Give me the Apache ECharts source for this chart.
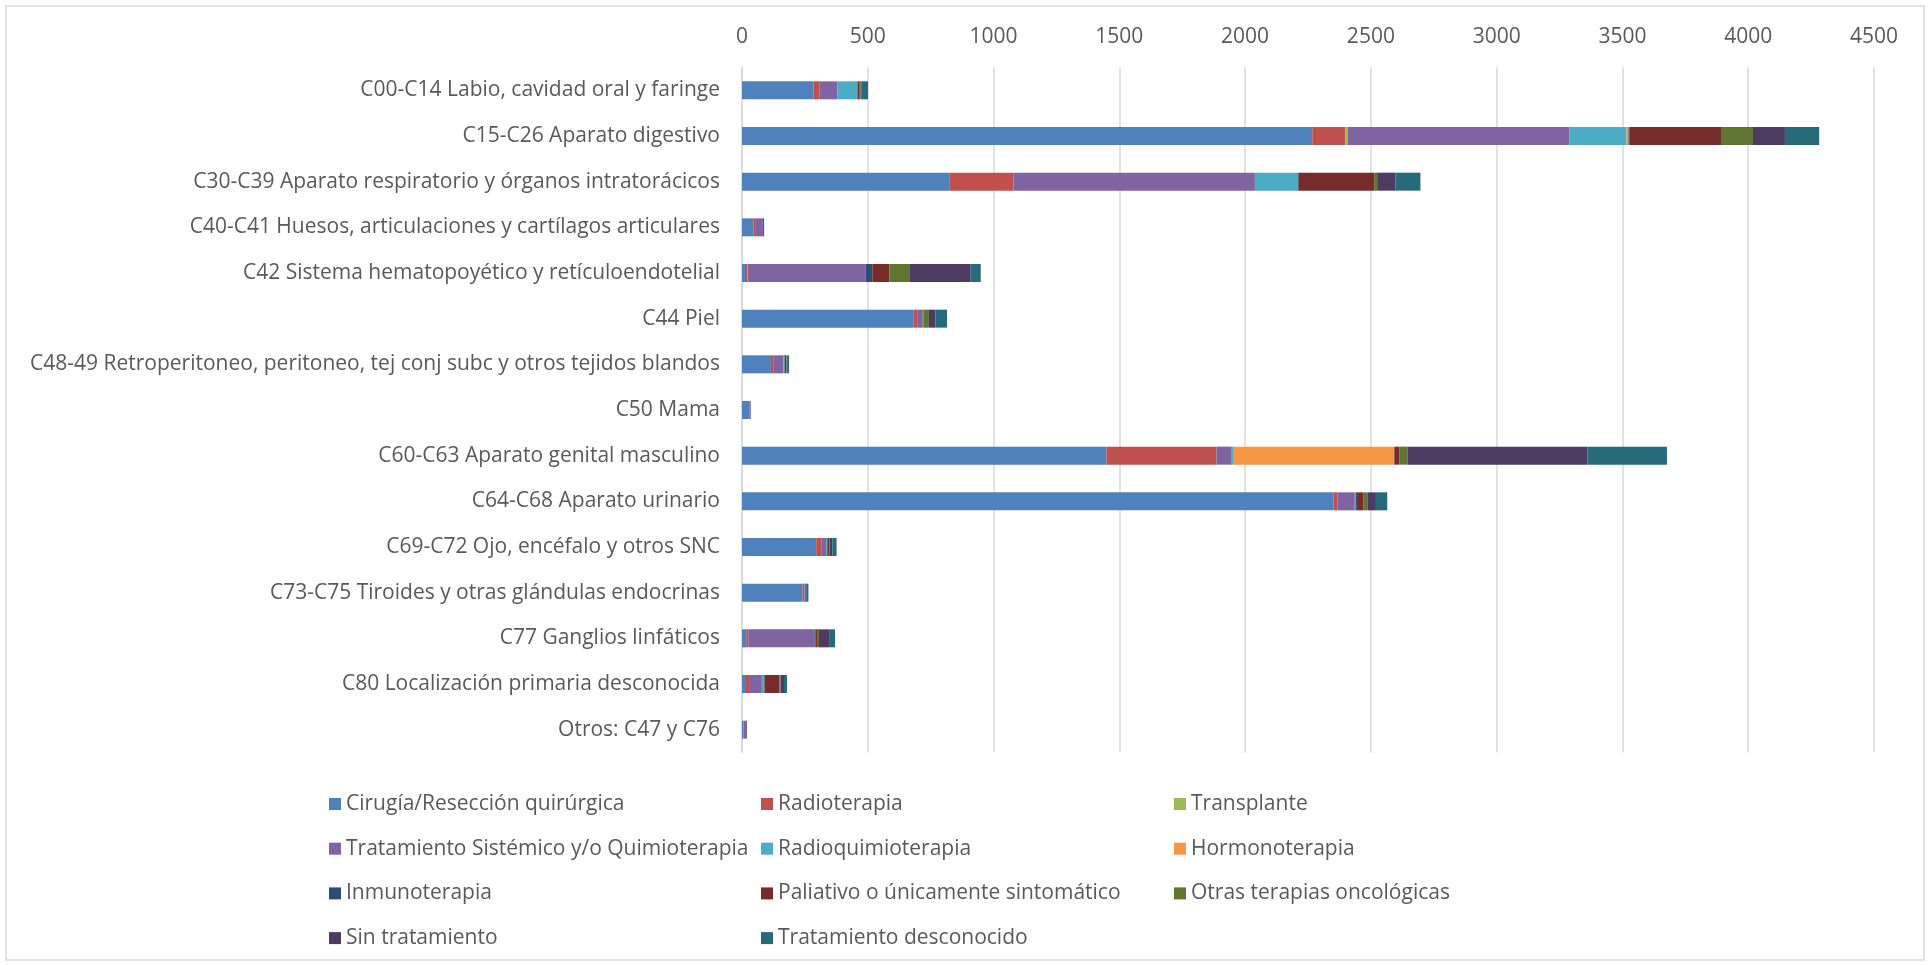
<!DOCTYPE html>
<html>
<head>
<meta charset="utf-8">
<script src="https://cdn.jsdelivr.net/npm/echarts@6/dist/echarts.min.js"></script>
<style>
  html, body { margin: 0; padding: 0; background: #fff; }
  #main { width: 1930px; height: 965px; }
</style>
</head>
<body>
<div id="main"></div>
<script>
// categorias (de arriba a abajo)
var categorias = [
  'C00-C14 Labio, cavidad oral y faringe',
  'C15-C26 Aparato digestivo',
  'C30-C39 Aparato respiratorio y órganos intratorácicos',
  'C40-C41 Huesos, articulaciones y cartílagos articulares',
  'C42 Sistema hematopoyético y retículoendotelial',
  'C44 Piel',
  'C48-49 Retroperitoneo, peritoneo, tej conj subc y otros tejidos blandos',
  'C50 Mama',
  'C60-C63 Aparato genital masculino',
  'C64-C68 Aparato urinario',
  'C69-C72 Ojo, encéfalo y otros SNC',
  'C73-C75 Tiroides y otras glándulas endocrinas',
  'C77 Ganglios linfáticos',
  'C80 Localización primaria desconocida',
  'Otros: C47 y C76'
];

var ticks = [0, 500, 1000, 1500, 2000, 2500, 3000, 3500, 4000, 4500];

// valores por tratamiento
var cirugia      = [284, 2267, 824, 45, 12, 681, 115, 28, 1449, 2351, 295, 241, 17, 16, 6];
var radioterapia = [25, 132, 255, 7, 8, 18, 9, 3, 437, 17, 22, 7, 8, 12, 0];
var transplante  = [0, 8, 0, 0, 2, 0, 0, 0, 0, 0, 0, 0, 0, 0, 0];
var sistemico    = [71, 881, 960, 31, 469, 17, 41, 4, 61, 68, 17, 4, 263, 51, 14];
var radioquimio  = [79, 228, 171, 0, 0, 2, 4, 0, 5, 5, 4, 0, 0, 10, 0];
var hormono      = [0, 8, 0, 0, 0, 0, 0, 0, 641, 0, 0, 0, 0, 0, 0];
var inmuno       = [0, 5, 3, 0, 27, 0, 2, 0, 0, 4, 2, 0, 5, 0, 0];
var paliativo    = [9, 366, 300, 0, 68, 3, 5, 0, 21, 26, 6, 0, 5, 60, 0];
var otras        = [4, 124, 12, 0, 79, 22, 2, 0, 32, 17, 3, 0, 8, 4, 0];
var sinTrat      = [4, 127, 73, 0, 244, 26, 4, 0, 715, 32, 10, 3, 43, 14, 0];
var desconocido  = [25, 136, 99, 5, 40, 46, 5, 0, 316, 45, 17, 9, 21, 12, 0];

var nombres = ['Cirugía/Resección quirúrgica', 'Radioterapia', 'Transplante',
  'Tratamiento Sistémico y/o Quimioterapia', 'Radioquimioterapia', 'Hormonoterapia',
  'Inmunoterapia', 'Paliativo o únicamente sintomático', 'Otras terapias oncológicas',
  'Sin tratamiento', 'Tratamiento desconocido'];
var colores = ['#4F81BD', '#C0504D', '#9BBB59', '#8064A2', '#4BACC6', '#F79646',
  '#2C4D75', '#772C2A', '#5F7530', '#4D3B62', '#276A7C'];
var valores = [cirugia, radioterapia, transplante, sistemico, radioquimio, hormono,
  inmuno, paliativo, otras, sinTrat, desconocido];

var fuente = '"Open Sans", sans-serif';
var gris = '#595959';
var tam = 21;

function crearSeries() {
  var s = [];
  for (var i = 0; i < nombres.length; i++) {
    s.push({
      name: nombres[i],
      type: 'bar',
      stack: 'total',
      barWidth: 18,
      itemStyle: { color: colores[i] },
      data: valores[i]
    });
  }
  return s;
}

function leyenda(items, left) {
  return {
    orient: 'vertical',
    left: left,
    top: 788,
    itemWidth: 12,
    itemHeight: 12,
    itemGap: 22.7,
    icon: 'rect',
    data: items,
    textStyle: { color: gris, fontFamily: fuente, fontSize: tam, lineHeight: 22 }
  };
}

var option = {
  animation: false,
  color: colores,
  graphic: [{
    type: 'rect',
    shape: { x: 6, y: 6, width: 1918, height: 954 },
    style: { fill: 'none', stroke: '#d9d9d9', lineWidth: 1.5 }
  }],
  legend: [
    leyenda([nombres[0], nombres[3], nombres[6], nombres[9]], 324),
    leyenda([nombres[1], nombres[4], nombres[7], nombres[10]], 756),
    leyenda([nombres[2], nombres[5], nombres[8]], 1169)
  ],
  grid: { left: 742, right: 56, top: 67.5, bottom: 212.5 },
  xAxis: {
    type: 'value',
    position: 'top',
    min: ticks[0],
    max: ticks[ticks.length - 1],
    interval: 500,
    axisLine: { show: false },
    axisTick: { show: false },
    axisLabel: {
      color: gris, fontFamily: fuente, fontSize: tam, margin: 20,
      formatter: function (v) { return String(v); }
    },
    splitLine: { lineStyle: { color: '#d9d9d9', width: 1.5 } }
  },
  yAxis: {
    type: 'category',
    inverse: true,
    data: categorias,
    axisLine: { show: true, lineStyle: { color: '#d9d9d9', width: 1.5 } },
    axisTick: { show: false },
    axisLabel: { color: gris, fontFamily: fuente, fontSize: tam, margin: 22 }
  },
  series: crearSeries()
};

var myChart = echarts.init(document.getElementById('main'));
myChart.setOption(option);
</script>
</body>
</html>
